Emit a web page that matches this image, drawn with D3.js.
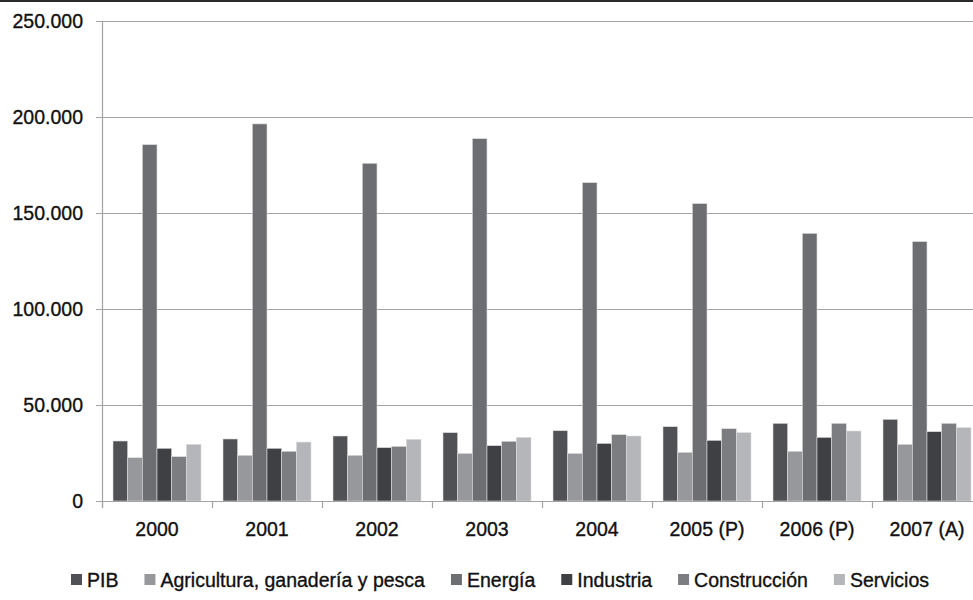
<!DOCTYPE html>
<html>
<head>
<meta charset="utf-8">
<script src="https://cdn.jsdelivr.net/npm/d3@7"></script>
<style>
  body { margin: 0; background: #fff; }
  svg { display: block; font-family: "Liberation Sans", Arial, sans-serif; }
  text { fill: #111; stroke: #111; stroke-width: 0.35px; }
</style>
</head>
<body>
<svg id="chart" width="973" height="600"></svg>
<script>
const categories = ["2000", "2001", "2002", "2003", "2004", "2005 (P)", "2006 (P)", "2007 (A)"];
const seriesNames = ["PIB", "Agricultura, ganadería y pesca", "Energía", "Industria", "Construcción", "Servicios"];
const seriesColors = ["#505155", "#97989b", "#6d6e72", "#3e4044", "#7b7d80", "#b5b6b9"];
const pib          = [31250, 32300, 33850, 35600, 36600, 38700, 40450, 42550];
const agricultura  = [22550, 23800, 23800, 24800, 24800, 25350, 25900, 29500];
const energia      = [185600, 196400, 175900, 188700, 165800, 154900, 139400, 135100];
const industria    = [27450, 27450, 27800, 28800, 30000, 31600, 33150, 36100];
const construccion = [23100, 25900, 28450, 31100, 34550, 37650, 40450, 40450];
const servicios    = [29500, 30700, 32100, 33150, 33850, 35600, 36450, 38200];
const yTicks = [0, 50000, 100000, 150000, 200000, 250000];

const seriesValues = [pib, agricultura, energia, industria, construccion, servicios];

const svg = d3.select("#chart");
const W = 973, H = 600;
const margin = {left: 102, top: 21, bottom: 99};
const plotRight = 982;
const y0 = H - margin.bottom; // 501

const locale = d3.formatLocale({decimal: ",", thousands: ".", grouping: [3], currency: ["", ""]});
const fmt = locale.format(",d");

const x0 = d3.scaleBand().domain(categories).range([margin.left, plotRight]).paddingInner(0.2).paddingOuter(0.1);
const x1 = d3.scaleBand().domain(seriesNames).range([0, x0.bandwidth()]).padding(0);
const y = d3.scaleLinear().domain([0, 250000]).range([y0, margin.top]);

// top border
svg.append("line").attr("x1", 0).attr("x2", W).attr("y1", 1).attr("y2", 1)
  .attr("stroke", "#2b2b2b").attr("stroke-width", 2);

// gridlines
svg.append("g").selectAll("line").data(yTicks.filter(d => d > 0)).join("line")
  .attr("x1", margin.left - 6).attr("x2", W)
  .attr("y1", d => Math.round(y(d)) + 0.5).attr("y2", d => Math.round(y(d)) + 0.5)
  .attr("stroke", "#a3a3a3").attr("stroke-width", 1.2);

// bars
const step = x0.step();
const groups = svg.append("g").selectAll("g").data(categories).join("g")
  .attr("transform", c => `translate(${x0(c)},0)`);
groups.selectAll("rect").data((c, i) => seriesNames.map((s, j) => ({s, j, v: seriesValues[j][i]}))).join("rect")
  .attr("x", d => x1(d.s))
  .attr("width", x1.bandwidth())
  .attr("y", d => y(d.v))
  .attr("height", d => y0 - y(d.v))
  .attr("fill", d => seriesColors[d.j])
  .attr("stroke", "#dcdcdc").attr("stroke-width", 0.6);

// y axis line & ticks
svg.append("line").attr("x1", margin.left + 0.5).attr("x2", margin.left + 0.5)
  .attr("y1", margin.top).attr("y2", y0 + 7).attr("stroke", "#a3a3a3").attr("stroke-width", 1.2);
svg.append("line").attr("x1", margin.left - 6).attr("x2", W)
  .attr("y1", y0 + 0.5).attr("y2", y0 + 0.5).attr("stroke", "#a3a3a3").attr("stroke-width", 1.2);

// y labels
svg.append("g").selectAll("text").data(yTicks).join("text")
  .attr("x", 83).attr("y", d => y(d)).attr("dy", "0.35em")
  .attr("text-anchor", "end").attr("font-size", 19.5)
  .text(d => fmt(d));

// x ticks at band boundaries
const boundaries = categories.map(c => x0(c) - step * 0.1).concat([x0(categories[categories.length - 1]) + step * 0.9]);
svg.append("g").selectAll("line").data(boundaries).join("line")
  .attr("x1", d => Math.round(d) + 0.5).attr("x2", d => Math.round(d) + 0.5)
  .attr("y1", y0).attr("y2", y0 + 7)
  .attr("stroke", "#a3a3a3").attr("stroke-width", 1.2);

// x labels
svg.append("g").selectAll("text").data(categories).join("text")
  .attr("x", c => x0(c) + x0.bandwidth() / 2)
  .attr("y", 536).attr("text-anchor", "middle").attr("font-size", 19.5)
  .text(c => c);

// legend
const legend = svg.append("g");
const items = legend.selectAll("g").data(seriesNames).join("g");
items.append("rect").attr("width", 11).attr("height", 11).attr("y", -6)
  .attr("fill", (d, i) => seriesColors[i]);
items.append("text").attr("x", 16).attr("dy", "0.35em").attr("font-size", 19.5)
  .text(d => d);
const gap = 26;
let cx = 0;
const offsets = [];
items.each(function(d, i) {
  offsets.push(cx);
  const w = this.querySelector("text").getComputedTextLength();
  cx += 16 + w + gap;
});
const totalW = cx - gap;
const startX = 500 - totalW / 2;
items.attr("transform", (d, i) => `translate(${startX + offsets[i]},580)`);
</script>
</body>
</html>
